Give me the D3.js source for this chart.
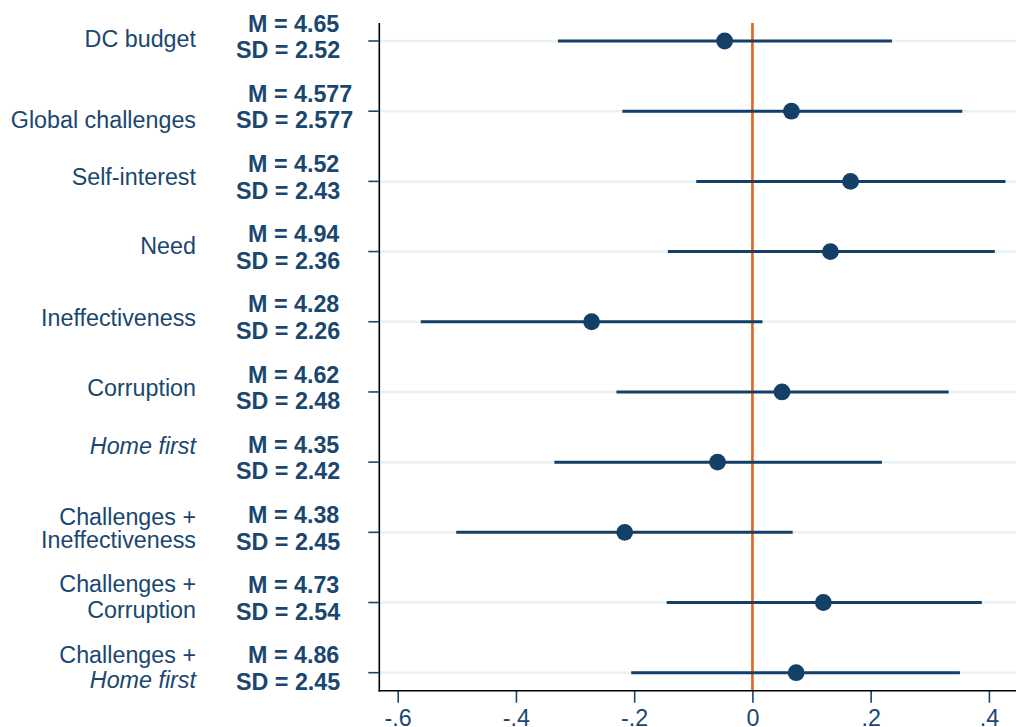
<!DOCTYPE html>
<html>
<head>
<meta charset="utf-8">
<script src="https://cdn.jsdelivr.net/npm/d3@7"></script>
<style>
  html, body { margin: 0; padding: 0; background: #fff; }
  svg { display: block; }
  text { font-family: "Liberation Sans", Arial, Helvetica, sans-serif; }
</style>
</head>
<body>
<svg id="chart" width="1016" height="727"></svg>
<script>
// Treatment labels (each entry is a list of lines; italic lines flagged)
const categories = [
  [{t: "DC budget"}],
  [{t: "Global challenges"}],
  [{t: "Self-interest"}],
  [{t: "Need"}],
  [{t: "Ineffectiveness"}],
  [{t: "Corruption"}],
  [{t: "Home first", i: true}],
  [{t: "Challenges +"}, {t: "Ineffectiveness"}],
  [{t: "Challenges +"}, {t: "Corruption"}],
  [{t: "Challenges +"}, {t: "Home first", i: true}]
];
const means = ["4.65", "4.577", "4.52", "4.94", "4.28", "4.62", "4.35", "4.38", "4.73", "4.86"];
const sds   = ["2.52", "2.577", "2.43", "2.36", "2.26", "2.48", "2.42", "2.45", "2.54", "2.45"];
// Point estimates and 95% confidence bounds
const estimates = [-0.047, 0.066, 0.166, 0.132, -0.272, 0.050, -0.059, -0.216, 0.120, 0.074];
const lower     = [-0.329, -0.220, -0.095, -0.143, -0.561, -0.230, -0.335, -0.501, -0.145, -0.205];
const upper     = [0.236, 0.355, 0.428, 0.410, 0.017, 0.332, 0.219, 0.068, 0.388, 0.351];
const xTicks = [-0.6, -0.4, -0.2, 0, 0.2, 0.4];
const xTickLabels = ["-.6", "-.4", "-.2", "0", ".2", ".4"];

// Baseline offsets of the category label lines relative to each row
const labelOffsets = [[5.7], [17.3], [3.7], [2], [4], [3.7], [-7.7], [-7.3, 16], [-11, 15.6], [-10, 15.6]];

const navy = "#1a476f";
const markColor = "#143f66";
const gridColor = "#eaf1f2";
const refColor = "#e2641c";
const fontSize = 23.3;

const svg = d3.select("#chart");

const plotLeft = 379.3, plotRight = 1016, plotTop = 23, plotBottom = 690.7;

const x = d3.scaleLinear().domain([-0.6, 0.4]).range([397.7, 988.9]);
const y = d3.scaleLinear().domain([0, categories.length - 1]).range([41, 672.7]);

const rows = categories.map((c, i) => ({
  i, lines: c, m: means[i], sd: sds[i],
  est: estimates[i], lo: lower[i], hi: upper[i], off: labelOffsets[i]
}));

// Horizontal grid lines
svg.append("g").selectAll("line").data(rows).join("line")
  .attr("x1", plotLeft).attr("x2", plotRight)
  .attr("y1", d => y(d.i)).attr("y2", d => y(d.i))
  .attr("stroke", gridColor).attr("stroke-width", 2.5);

// Reference line at zero
svg.append("line")
  .attr("x1", x(0)).attr("x2", x(0))
  .attr("y1", plotTop).attr("y2", plotBottom)
  .attr("stroke", refColor).attr("stroke-width", 2.6);

// Confidence intervals
svg.append("g").selectAll("line").data(rows).join("line")
  .attr("x1", d => x(d.lo)).attr("x2", d => x(d.hi))
  .attr("y1", d => y(d.i)).attr("y2", d => y(d.i))
  .attr("stroke", markColor).attr("stroke-width", 3);

// Point estimates
svg.append("g").selectAll("circle").data(rows).join("circle")
  .attr("cx", d => x(d.est)).attr("cy", d => y(d.i))
  .attr("r", 8.4).attr("fill", markColor);

// Y axis: line and ticks
svg.append("line")
  .attr("x1", plotLeft).attr("x2", plotLeft)
  .attr("y1", plotTop).attr("y2", plotBottom + 0.8)
  .attr("stroke", "#000").attr("stroke-width", 1.6);
svg.append("g").selectAll("line").data(rows).join("line")
  .attr("x1", plotLeft - 11).attr("x2", plotLeft)
  .attr("y1", d => y(d.i)).attr("y2", d => y(d.i))
  .attr("stroke", navy).attr("stroke-width", 1.6);

// X axis via d3.axisBottom
const xAxis = d3.axisBottom(x)
  .tickValues(xTicks)
  .tickFormat((d, i) => xTickLabels[i])
  .tickSize(12)
  .tickSizeOuter(0);
const gx = svg.append("g").attr("transform", `translate(0,${plotBottom})`).call(xAxis);
gx.select(".domain").remove();
gx.selectAll(".tick line").attr("stroke", navy).attr("stroke-width", 1.6);
gx.selectAll(".tick text")
  .attr("fill", navy).attr("font-size", fontSize)
  .attr("font-family", "Liberation Sans, Arial, sans-serif")
  .attr("y", 0).attr("dy", null)
  .attr("transform", "translate(0,35.5)");
svg.append("line")
  .attr("x1", plotLeft - 0.8).attr("x2", plotRight)
  .attr("y1", plotBottom).attr("y2", plotBottom)
  .attr("stroke", "#000").attr("stroke-width", 1.6);

// Category labels
const catG = svg.append("g").selectAll("text").data(rows).join("text")
  .attr("text-anchor", "end").attr("font-size", fontSize).attr("fill", navy);
catG.each(function(d) {
  const t = d3.select(this);
  d.lines.forEach((ln, k) => {
    t.append("tspan")
      .attr("x", 196)
      .attr("y", y(d.i) + d.off[k])
      .attr("font-style", ln.i ? "italic" : "normal")
      .text(ln.t);
  });
});

// Mean / SD annotations
svg.append("g").selectAll("text").data(rows).join("text")
  .attr("x", 248).attr("y", d => y(d.i) - 9.3)
  .attr("font-size", fontSize).attr("font-weight", "bold").attr("fill", navy)
  .text(d => `M = ${d.m}`);
svg.append("g").selectAll("text").data(rows).join("text")
  .attr("x", 236).attr("y", d => y(d.i) + 17.3)
  .attr("font-size", fontSize).attr("font-weight", "bold").attr("fill", navy)
  .text(d => `SD = ${d.sd}`);
</script>
</body>
</html>
